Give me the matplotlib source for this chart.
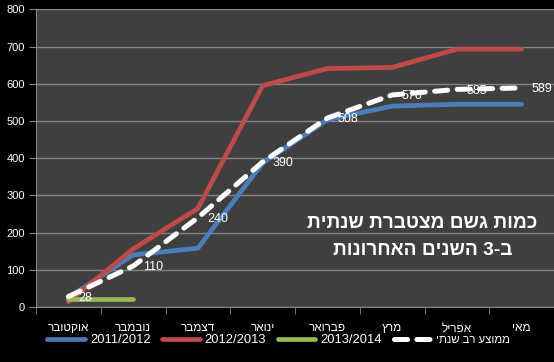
import matplotlib
matplotlib.use("Agg")
import matplotlib.pyplot as plt

plt.rcParams["font.family"] = ["Liberation Sans", "DejaVu Sans"]

_BG = "#000000"
_PLOT_BG = "#3f3f3f"
_GRID = "#868686"
_FG = "#ffffff"

# matplotlib draws left-to-right, so Hebrew strings are reversed to visual order
def heb(s):
    return s[::-1]

months = ["אוקטובר", "נובמבר", "דצמבר", "ינואר", "פברואר", "מרץ", "אפריל", "מאי"]
season_2011 = [25, 140, 158, 387, 503, 540, 545, 545]
season_2012 = [14, 156, 265, 595, 641, 644, 693, 693]
season_2013 = [21, 21]
average = [28, 110, 240, 390, 508, 570, 585, 589]
avg_label = "ממוצע רב שנתי"
title_lines = ["כמות גשם מצטברת שנתית", "ב-3 השנים האחרונות"]

fig = plt.figure(figsize=(5.54, 3.62), dpi=100)
fig.patch.set_facecolor(_BG)
ax = fig.add_axes([0.065, 0.152, 0.935, 0.822])
ax.set_facecolor(_PLOT_BG)

x = list(range(len(months)))
ax.plot(x, season_2011, color="#4a7ebb", lw=3.4, solid_capstyle="round",
        solid_joinstyle="round", label="2011/2012", zorder=3)
ax.plot(x, season_2012, color="#be4b48", lw=3.4, solid_capstyle="round",
        solid_joinstyle="round", label="2012/2013", zorder=3)
ax.plot(x[:len(season_2013)], season_2013, color="#98b954", lw=3.4,
        solid_capstyle="round", label="2013/2014", zorder=3)
ax.plot(x, average, color="white", lw=3.6, dashes=(2.6, 1.9),
        dash_capstyle="round", label=heb(avg_label), zorder=5)

for xi, v in zip(x, average):
    ax.annotate(str(v), (xi, v), xytext=(7, -1), textcoords="offset points",
                ha="left", va="center", color=_FG, fontsize=9, zorder=4)

ax.text(5.47, 188, "\n".join(heb(t) for t in title_lines), ha="center",
        va="center", multialignment="center", color=_FG, fontsize=13.8,
        fontweight="bold", linespacing=1.75, zorder=6)

ax.set_xlim(-0.5, len(months) - 0.5)
ax.set_ylim(0, 800)
ax.set_yticks(range(0, 801, 100))
ax.set_xticks(x)
ax.set_xticklabels([heb(m) for m in months])
ax.set_xticks([i - 0.5 for i in range(len(months) + 1)], minor=True)
ax.tick_params(axis="x", which="major", length=0, pad=11, colors=_FG, labelsize=8.5)
ax.tick_params(axis="x", which="minor", length=5, color=_GRID)
ax.tick_params(axis="y", length=5, color=_GRID, colors=_FG, labelsize=8, pad=3)
ax.yaxis.grid(True, color=_GRID, lw=1)
ax.set_axisbelow(True)
for side in ("top", "right"):
    ax.spines[side].set_visible(False)
for side in ("left", "bottom"):
    ax.spines[side].set_color(_GRID)

leg = fig.legend(loc="center", bbox_to_anchor=(0.503, 0.06), ncol=4, frameon=False,
                 fontsize=9.3, handlelength=2.9, handletextpad=0.4,
                 columnspacing=0.9, labelcolor=_FG)
# the Hebrew entry is narrower in the reference
leg.get_texts()[3].set_fontsize(8.2)

fig.savefig("out.png", facecolor=fig.get_facecolor())
